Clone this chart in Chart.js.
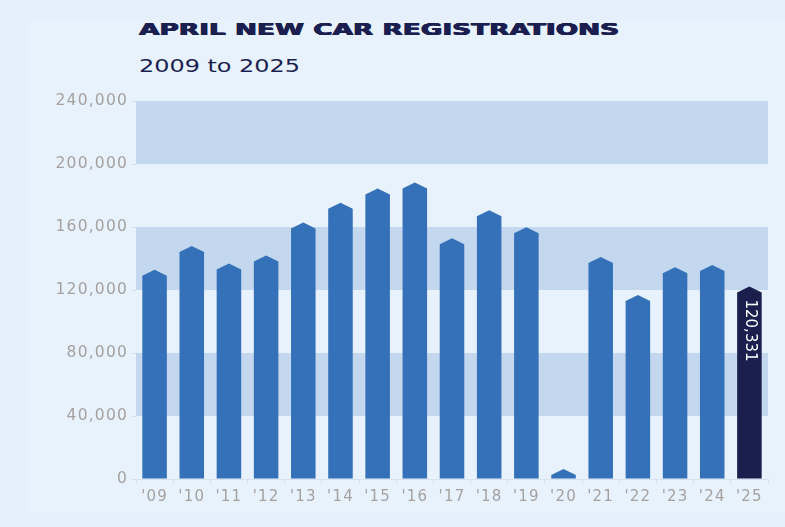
<!DOCTYPE html>
<html>
<head>
<meta charset="utf-8">
<script src="https://cdn.jsdelivr.net/npm/chart.js@4.4.1/dist/chart.umd.min.js"></script>
<style>
    html, body {
        margin: 0;
        padding: 0;
        background: #e6f0fc;
        overflow: hidden;
    }
    #wrap {
        position: relative;
        width: 785px;
        height: 527px;
    }
    #panel {
        position: absolute;
        left: 30px;
        top: 20px;
        right: 0;
        bottom: 14px;
        background: #e8f2fd;
    }
    .head {
        position: absolute;
        left: 139px;
        margin: 0;
        white-space: nowrap;
        color: #1b1f4f;
        font-family: "DejaVu Sans", sans-serif;
        transform-origin: 0 0;
        line-height: 1;
    }
    #title {
        top: 22px;
        font-size: 16.5px;
        font-weight: bold;
        text-shadow: 0.6px 0 0 #1b1f4f, -0.4px 0 0 #1b1f4f, 0 0.4px 0 #1b1f4f;
    }
    #subtitle {
        top: 57px;
        font-size: 18.4px;
        font-weight: normal;
    }
    #chartBox {
        position: absolute;
        left: 0;
        top: 0;
        width: 785px;
        height: 527px;
    }
</style>
</head>
<body>
<div id="wrap">
    <div id="panel"></div>
    <h1 class="head" id="title" data-width="480">APRIL NEW CAR REGISTRATIONS</h1>
    <h2 class="head" id="subtitle" data-width="161">2009 to 2025</h2>
    <div id="chartBox"><canvas id="regChart"></canvas></div>
</div>
<script>
// April new car registrations
const years = ["'09", "'10", "'11", "'12", "'13", "'14", "'15", "'16", "'17",
    "'18", "'19", "'20", "'21", "'22", "'23", "'24", "'25"];
const registrations = [131000, 146000, 135000, 140000, 161000, 173500, 182500,
    186300, 151000, 168800, 158000, 4400, 139000, 115000, 132500, 134000, 120331];
const yTickValues = [0, 40000, 80000, 120000, 160000, 200000, 240000];
const shadedBands = [[40000, 80000], [120000, 160000], [200000, 240000]];

const BLUE = "#3571b9";
const NAVY = "#1a1f4e";
const BAND = "#c3d7ef";
const GREY = "#a5a19f";

// stretch the heading text to the width it has in the original
document.querySelectorAll(".head").forEach(function (el) {
    var w = el.getBoundingClientRect().width;
    el.style.transform = "scaleX(" + (parseFloat(el.dataset.width) / w) + ")";
});

// shaded horizontal bands behind the bars
const bandPlugin = {
    id: "bands",
    beforeDraw(chart) {
        chart.ctx.letterSpacing = "1.2px"; // wide look of the tick labels
    },
    beforeDatasetsDraw(chart) {
        const { ctx, chartArea, scales } = chart;
        ctx.save();
        ctx.fillStyle = BAND;
        shadedBands.forEach(function (b) {
            const top = scales.y.getPixelForValue(b[1]);
            const bottom = scales.y.getPixelForValue(b[0]);
            ctx.fillRect(chartArea.left, top, chartArea.right - chartArea.left, bottom - top);
        });
        ctx.restore();
    },
};

// bars with a pointed roof instead of a flat top
const roofBarPlugin = {
    id: "roofBars",
    beforeDatasetDraw(chart, args) {
        const ctx = chart.ctx;
        const cap = 3;
        ctx.save();
        args.meta.data.forEach(function (bar) {
            const half = bar.width / 2;
            ctx.fillStyle = bar.options.backgroundColor;
            ctx.beginPath();
            ctx.moveTo(bar.x - half, bar.base);
            ctx.lineTo(bar.x - half, bar.y + cap);
            ctx.lineTo(bar.x, bar.y - cap);
            ctx.lineTo(bar.x + half, bar.y + cap);
            ctx.lineTo(bar.x + half, bar.base);
            ctx.closePath();
            ctx.fill();
        });
        ctx.restore();
        return false;
    },
    afterDatasetsDraw(chart) {
        const ctx = chart.ctx;
        const meta = chart.getDatasetMeta(0);
        const last = meta.data.length - 1;
        const bar = meta.data[last];
        ctx.save();
        ctx.letterSpacing = "0px";
        ctx.translate(bar.x, bar.y + 10);
        ctx.rotate(Math.PI / 2);
        ctx.fillStyle = "#ffffff";
        ctx.font = "15px 'DejaVu Sans'";
        ctx.textAlign = "left";
        ctx.textBaseline = "middle";
        ctx.fillText(registrations[last].toLocaleString("en-US"), 0, 0);
        ctx.restore();
    },
};

const ctx = document.getElementById("regChart").getContext("2d");
new Chart(ctx, {
    type: "bar",
    data: {
        labels: years,
        datasets: [
            {
                label: "April registrations",
                data: registrations,
                backgroundColor: registrations.map((v, i) =>
                    i === registrations.length - 1 ? NAVY : BLUE),
                barPercentage: 0.66,
                categoryPercentage: 1.0,
            },
        ],
    },
    options: {
        responsive: true,
        maintainAspectRatio: false,
        animation: false,
        layout: {
            padding: { top: 101, right: 17, left: 36, bottom: 0 },
        },
        scales: {
            x: {
                afterFit(scale) {
                    scale.height = 48;
                },
                grid: {
                    drawOnChartArea: false,
                    tickLength: 4,
                    color: "#d3dde9",
                },
                border: { display: true, color: "#d8e2ee" },
                ticks: {
                    autoSkip: false,
                    maxRotation: 0,
                    padding: 5,
                    color: GREY,
                    font: { family: "DejaVu Sans", size: 15 },
                },
            },
            y: {
                min: 0,
                max: 240000,
                afterFit(scale) {
                    scale.width = 100;
                },
                afterBuildTicks(scale) {
                    scale.ticks = yTickValues.map((v) => ({ value: v }));
                },
                grid: {
                    drawOnChartArea: false,
                    tickLength: 4,
                    color: "#d3dde9",
                },
                border: { display: false },
                ticks: {
                    padding: 4,
                    color: GREY,
                    font: { family: "DejaVu Sans", size: 15.5 },
                    callback: (v) => v.toLocaleString("en-US"),
                },
            },
        },
        plugins: {
            legend: { display: false },
            tooltip: { enabled: false },
        },
    },
    plugins: [bandPlugin, roofBarPlugin],
});
</script>
</body>
</html>
